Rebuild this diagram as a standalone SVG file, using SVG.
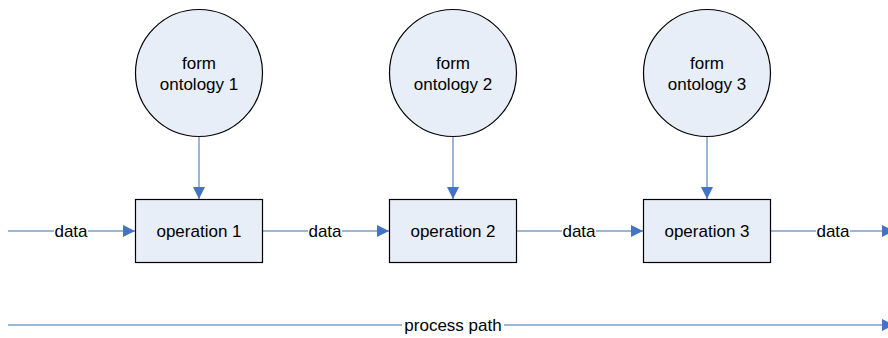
<svg xmlns="http://www.w3.org/2000/svg" width="888" height="338" viewBox="0 0 888 338">
  <defs>
    <marker id="arrow" viewBox="0 0 10 10" refX="10" refY="5" markerWidth="12" markerHeight="12" markerUnits="userSpaceOnUse" orient="auto">
      <path d="M0,0 L10,5 L0,10 z" fill="#4472C4"/>
    </marker>
  </defs>
  <style>
    .node { fill: #E8EEF8; stroke: #000; stroke-width: 1.2; }
    .link { stroke: #9BB5DB; stroke-width: 2; fill: none; }
    .lbl { font-family: "Liberation Sans", Arial, sans-serif; font-size: 17px; fill: #000; text-anchor: middle; }
    .bg { fill: #fff; }
  </style>
  <rect width="888" height="338" fill="#fff"/>

  <g id="connectors">
    <!-- ontology to operation -->
    <line class="link" x1="199" y1="136" x2="199" y2="199" marker-end="url(#arrow)"/>
    <line class="link" x1="453" y1="136" x2="453" y2="199" marker-end="url(#arrow)"/>
    <line class="link" x1="707" y1="136" x2="707" y2="199" marker-end="url(#arrow)"/>
    <!-- data flow -->
    <line class="link" x1="8" y1="231" x2="135" y2="231" marker-end="url(#arrow)"/>
    <line class="link" x1="262" y1="231" x2="389" y2="231" marker-end="url(#arrow)"/>
    <line class="link" x1="516" y1="231" x2="643" y2="231" marker-end="url(#arrow)"/>
    <line class="link" x1="770" y1="231" x2="894" y2="231" marker-end="url(#arrow)"/>
    <rect class="bg" x="54" y="220" width="34" height="22"/>
    <text class="lbl" x="71" y="237">data</text>
    <rect class="bg" x="308" y="220" width="34" height="22"/>
    <text class="lbl" x="325" y="237">data</text>
    <rect class="bg" x="562" y="220" width="34" height="22"/>
    <text class="lbl" x="579" y="237">data</text>
    <rect class="bg" x="816" y="220" width="34" height="22"/>
    <text class="lbl" x="833" y="237">data</text>
    <!-- process path -->
    <line class="link" x1="8" y1="325" x2="894" y2="325" marker-end="url(#arrow)"/>
    <rect class="bg" x="402" y="314" width="102" height="22"/>
    <text class="lbl" x="453" y="331">process path</text>
  </g>

  <g id="ontology1">
    <circle class="node" cx="199" cy="73" r="63.5"/>
    <text class="lbl" x="199" y="69">form</text>
    <text class="lbl" x="199" y="90">ontology  1</text>
  </g>
  <g id="ontology2">
    <circle class="node" cx="453" cy="73" r="63.5"/>
    <text class="lbl" x="453" y="69">form</text>
    <text class="lbl" x="453" y="90">ontology  2</text>
  </g>
  <g id="ontology3">
    <circle class="node" cx="707" cy="73" r="63.5"/>
    <text class="lbl" x="707" y="69">form</text>
    <text class="lbl" x="707" y="90">ontology  3</text>
  </g>

  <g id="operation1">
    <rect class="node" x="135.5" y="199.5" width="127" height="63"/>
    <text class="lbl" x="199" y="237">operation  1</text>
  </g>
  <g id="operation2">
    <rect class="node" x="389.5" y="199.5" width="127" height="63"/>
    <text class="lbl" x="453" y="237">operation  2</text>
  </g>
  <g id="operation3">
    <rect class="node" x="643.5" y="199.5" width="127" height="63"/>
    <text class="lbl" x="707" y="237">operation  3</text>
  </g>
</svg>
